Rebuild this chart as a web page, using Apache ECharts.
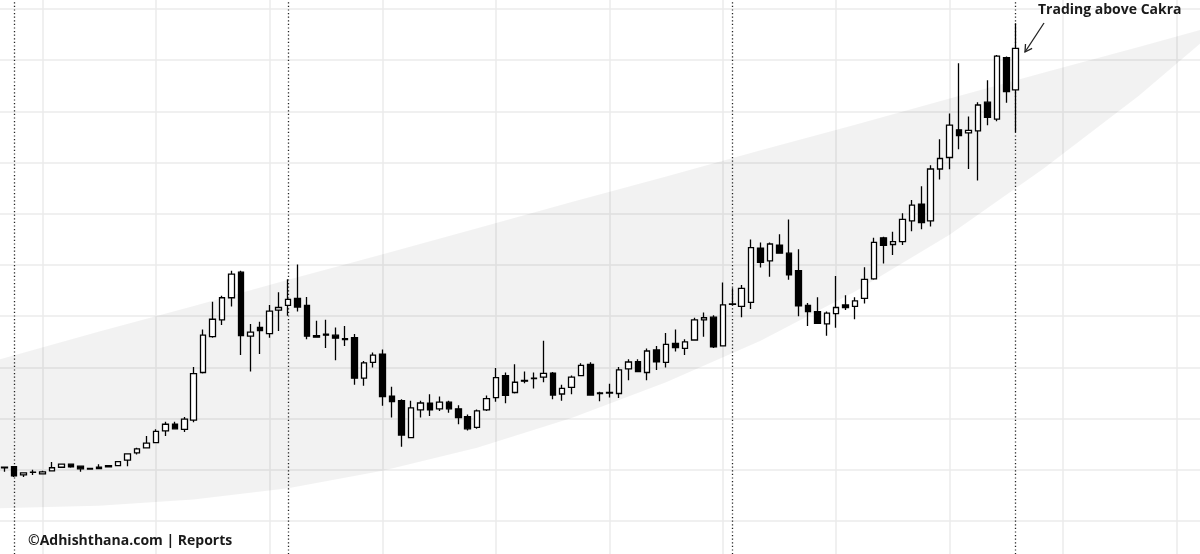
<!DOCTYPE html>
<html>
<head>
<meta charset="utf-8">
<script src="https://cdn.jsdelivr.net/npm/echarts@6/dist/echarts.min.js"></script>
<style>
html,body{margin:0;padding:0;background:#fff;}
#chart{width:1200px;height:554px;}
</style>
</head>
<body>
<div id="chart"></div>
<script>
// ---- Data (price units, arbitrary scale) ----
const totalSlots = 127; // 108 candles + empty space to the right
const categories = Array.from({length: totalSlots}, (_, i) => 'P' + (i + 1));

const opens = [110.5,110.6,109.0,109.5,109.2,109.8,110.5,111.1,110.7,110.25,
 110.5,110.6,110.8,111.9,113.3,114.3,115.3,117.6,118.9,117.9,
 119.7,129.0,136.0,139.3,143.6,148.6,136.1,137.8,136.6,141.2,
 142.1,143.5,142.1,136.2,136.5,136.3,135.6,135.8,127.9,131.0,
 132.6,124.4,123.5,116.3,121.7,123.0,121.9,123.2,121.9,120.4,
 118.3,121.7,124.1,128.4,125.1,127.45,127.8,128.1,128.9,124.8,
 126.1,128.4,130.6,125.0,125.0,124.9,129.7,131.1,129.0,133.4,
 131.0,134.7,133.7,135.35,139.3,139.8,134.2,142.4,141.9,142.7,
 153.3,150.8,153.9,152.3,148.9,142.1,140.9,138.5,140.5,142.2,
 141.9,143.5,147.3,155.3,154.0,154.55,158.6,161.9,158.6,168.75,
 171.0,176.4,175.8,176.2,181.8,178.5,190.5,184.2];
const closes = [110.4,108.8,109.4,109.55,109.6,110.4,111.1,110.6,110.2,110.15,
 110.25,110.8,111.6,113.1,114.1,115.2,117.5,118.9,118.0,119.9,
 128.8,136.3,139.4,143.6,148.2,136.2,136.9,137.2,141.0,141.7,
 143.3,141.8,136.1,135.9,136.3,135.7,135.45,127.9,130.9,132.4,
 124.3,123.3,116.8,122.1,123.05,121.7,123.2,121.9,120.2,118.0,
 121.5,123.9,128.0,124.55,127.1,127.3,127.9,128.85,124.6,125.9,
 128.1,130.4,124.6,124.9,125.1,129.5,131.05,129.2,133.2,131.1,
 134.5,133.85,135.0,139.3,139.7,134.0,142.2,142.3,145.45,153.4,
 150.5,154.1,152.3,148.1,142.0,140.9,138.6,140.6,141.7,141.7,
 143.0,147.2,154.4,153.85,154.55,158.9,161.7,158.3,168.75,170.8,
 177.3,175.25,176.3,181.25,178.85,190.8,183.85,192.3];
const lows = [109.6,108.6,108.6,109.0,109.1,109.7,110.4,110.4,109.6,110.05,
 110.1,110.5,110.7,110.7,113.0,114.2,115.2,116.6,117.9,117.4,
 119.3,128.8,135.8,138.3,141.9,132.4,129.2,132.6,135.8,137.1,
 140.1,140.9,135.5,135.8,133.8,131.4,134.2,126.6,126.4,130.0,
 122.5,120.2,114.5,116.2,120.2,120.5,121.5,121.15,118.9,117.7,
 118.0,121.5,123.3,123.0,124.9,126.9,125.9,127.1,123.8,123.5,
 124.75,128.3,124.5,123.4,124.1,124.0,127.5,129.1,127.5,129.5,
 130.0,133.1,132.4,135.2,136.0,133.8,134.1,142.1,139.8,141.4,
 149.5,147.7,152.2,147.1,140.0,138.1,138.5,136.2,137.75,141.2,
 139.4,142.5,147.1,150.3,151.95,153.9,156.6,157.0,157.5,166.7,
 168.7,172.6,168.75,166.5,177.3,178.1,181.7,176.0];
const highs = [110.6,110.7,109.5,110.0,109.8,111.5,111.2,111.15,110.8,110.35,
 111.1,110.9,111.7,113.2,114.3,116.6,117.9,119.4,119.4,120.3,
 130.1,137.4,142.8,144.0,148.9,148.9,138.5,138.9,142.2,144.7,
 147.2,150.1,143.75,139.1,139.3,137.8,138.1,136.5,131.25,132.9,
 133.5,126.2,123.8,123.5,123.5,124.75,124.3,123.5,122.6,120.8,
 121.8,124.5,129.9,129.0,130.6,129.2,129.0,135.2,129.1,126.6,
 128.4,130.8,131.0,125.25,126.8,130.1,131.6,131.6,133.7,134.2,
 136.7,137.4,135.5,139.7,140.7,140.2,146.6,145.45,146.1,155.0,
 154.4,154.4,156.0,158.9,153.1,142.6,143.7,140.9,147.85,144.1,
 143.7,149.55,155.3,155.5,156.5,160.1,162.7,165.4,169.5,174.55,
 179.6,189.4,179.0,181.8,186.1,191.0,190.7,197.2];

// Cakra band edges sampled along the slot axis
const bandX     = [-0.5, 10, 20, 30, 40, 50, 60, 70, 80, 90, 100, 110, 120, 126.5];
const bandUpper = [131.6,137.0,142.0,147.1,152.1,157.2,162.3,167.3,172.4,177.4,182.5,187.6,192.6,195.9];
const bandLower = [102.5,103.0,104.2,106.4,109.8,114.3,120.1,127.1,135.2,144.8,155.9,168.9,183.0,193.2];

// vertical reference lines (slot indices)
const gridLineSlots = [4, 16, 28, 40, 52, 64, 76, 88, 100, 112, 124];
const cycleLineSlots = [1, 30, 77, 107];

const annotationText = 'Trading above Cakra';
const watermarkText = '©Adhishthana.com | Reports';

// ---- Build options ----
const candleData = opens.map((o, i) => [o, closes[i], lows[i], highs[i]]);

const markLineData = gridLineSlots.map(v => ({
  xAxis: v, lineStyle: {color: '#ebebeb', width: 1.5, type: 'solid'}
})).concat(cycleLineSlots.map(v => ({
  xAxis: v, lineStyle: {color: '#222222', width: 1.3, type: [1.2, 2.4]}
})));

function renderBand(params, api) {
  const pts = [];
  for (let i = 0; i < bandX.length; i++) pts.push(api.coord([bandX[i], bandUpper[i]]));
  for (let i = bandX.length - 1; i >= 0; i--) pts.push(api.coord([bandX[i], bandLower[i]]));
  return {type: 'polygon', shape: {points: pts}, style: {fill: 'rgba(0,0,0,0.05)'}, silent: true};
}

const chart = echarts.init(document.getElementById('chart'), null, {renderer: 'canvas'});
chart.setOption({
  animation: false,
  backgroundColor: '#ffffff',
  grid: {left: 0, width: 1200, top: -42.2, height: 614.4, containLabel: false, outerBoundsMode: 'none'},
  xAxis: [
    {type: 'category', data: categories, boundaryGap: true,
     axisLine: {show: false}, axisTick: {show: false}, axisLabel: {show: false}, splitLine: {show: false}},
    {type: 'value', min: -0.5, max: 126.5, show: false}
  ],
  yAxis: {
    type: 'value', min: 90, max: 210, interval: 10,
    axisLine: {show: false}, axisTick: {show: false}, axisLabel: {show: false},
    splitLine: {show: true, lineStyle: {color: '#ebebeb', width: 1.5}}
  },
  series: [
    {
      name: 'cakra', type: 'custom', xAxisIndex: 1, data: [0], z: 2, silent: true,
      renderItem: renderBand, clip: false
    },
    {
      name: 'price', type: 'candlestick', xAxisIndex: 0, data: candleData, z: 3,
      barWidth: 6,
      itemStyle: {color: '#ffffff', color0: '#000000', borderColor: '#000000', borderColor0: '#000000', borderWidth: 1.3},
      markLine: {
        silent: true, symbol: ['none', 'none'], z: 1, animation: false,
        label: {show: false}, emphasis: {disabled: true},
        data: markLineData
      }
    }
  ],
  graphic: [
    {type: 'text', left: 1038, top: 3, z: 10,
     style: {text: annotationText, font: 'bold 14px "Open Sans", sans-serif', fill: '#1a1a1a'}},
    {type: 'line', z: 10, shape: {x1: 1044, y1: 23, x2: 1025, y2: 52}, style: {stroke: '#222', lineWidth: 1.3}},
    {type: 'polyline', z: 10, shape: {points: [[1032.1, 48.4], [1025, 52], [1025.5, 44]]}, style: {stroke: '#222', lineWidth: 1.3, fill: null}},
    {type: 'text', left: 28, top: 534, z: 10,
     style: {text: watermarkText, font: 'bold 14px "Open Sans", sans-serif', fill: '#1a1a1a'}}
  ]
});
</script>
</body>
</html>
